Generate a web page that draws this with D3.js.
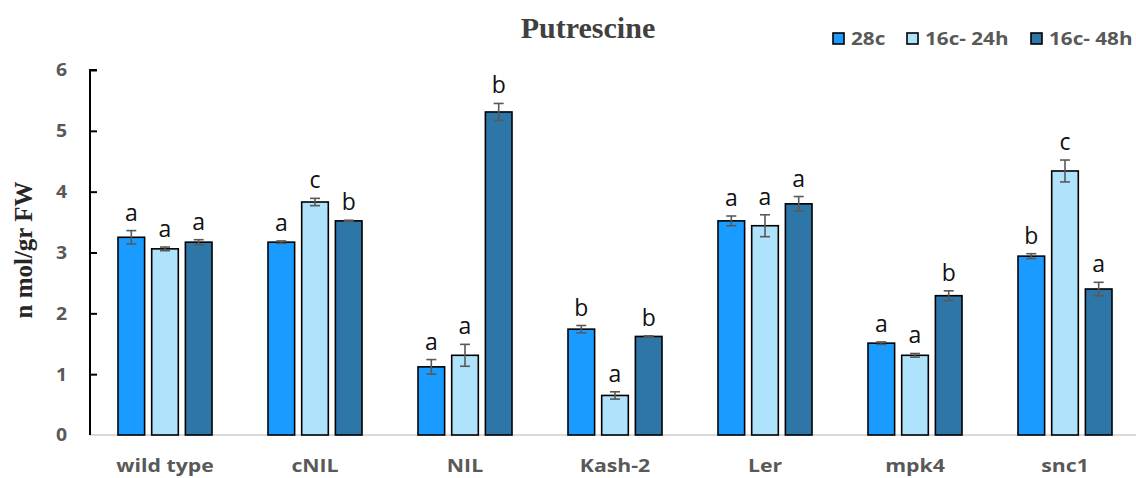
<!DOCTYPE html>
<html>
<head>
<meta charset="utf-8">
<script src="https://cdn.jsdelivr.net/npm/d3@7"></script>
<style>
  html, body { margin: 0; padding: 0; background: #fff; }
  svg { display: block; }
</style>
</head>
<body>
<svg id="chart" width="1136" height="478"></svg>
<script>
// Putrescine content per genotype and temperature treatment
const categories = ["wild type", "cNIL", "NIL", "Kash-2", "Ler", "mpk4", "snc1"];
const seriesNames = ["28c", "16c- 24h", "16c- 48h"];
const seriesColors = ["#1a9bff", "#aee3fb", "#2e75a8"];

const values28c  = [3.25, 3.17, 1.12, 1.74, 3.52, 1.51, 2.94];
const values24h  = [3.06, 3.83, 1.31, 0.65, 3.44, 1.31, 4.34];
const values48h  = [3.17, 3.52, 5.31, 1.62, 3.80, 2.29, 2.40];

const err28c = [0.11, 0.02, 0.12, 0.06, 0.08, 0.02, 0.04];
const err24h = [0.03, 0.06, 0.18, 0.06, 0.18, 0.03, 0.18];
const err48h = [0.04, 0.01, 0.14, 0.01, 0.12, 0.08, 0.11];

const letters28c = ["a", "a", "a", "b", "a", "a", "b"];
const letters24h = ["a", "c", "a", "a", "a", "a", "c"];
const letters48h = ["a", "b", "b", "b", "a", "b", "a"];

const yTicks = [0, 1, 2, 3, 4, 5, 6];

const seriesValues = [values28c, values24h, values48h];
const seriesErrors = [err28c, err24h, err48h];
const seriesLetters = [letters28c, letters24h, letters48h];

const rows = [];
categories.forEach((c, i) => {
  seriesNames.forEach((s, j) => {
    rows.push({ cat: c, series: s, si: j,
      value: seriesValues[j][i], err: seriesErrors[j][i], letter: seriesLetters[j][i] });
  });
});

const svg = d3.select("#chart");
const plotLeft = 90, plotRight = 1140, plotTop = 70, plotBottom = 435;

const x0 = d3.scaleBand().domain(categories).range([plotLeft, plotRight]);
const x1 = d3.scaleBand().domain(seriesNames).range([28, 122]).paddingInner(0.21).paddingOuter(0);
const y = d3.scaleLinear().domain([0, 6]).range([plotBottom, plotTop]);
const color = d3.scaleOrdinal().domain(seriesNames).range(seriesColors);

const sansFont = "'Open Sans', 'DejaVu Sans', sans-serif";
const serifFont = "'Liberation Serif', 'DejaVu Serif', serif";

// horizontal baseline
svg.append("line")
  .attr("x1", plotLeft).attr("x2", 1136)
  .attr("y1", plotBottom).attr("y2", plotBottom)
  .attr("stroke", "#d9d9d9").attr("stroke-width", 2);

// bars
svg.append("g").selectAll("rect").data(rows).join("rect")
  .attr("x", d => x0(d.cat) + x1(d.series))
  .attr("y", d => y(d.value))
  .attr("width", x1.bandwidth())
  .attr("height", d => y(0) - y(d.value))
  .attr("fill", d => color(d.series))
  .attr("stroke", "#000")
  .attr("stroke-width", 1.6);

// error bars
const capHalf = 5;
const eg = svg.append("g").attr("stroke", "#595959").attr("stroke-width", 1.6);
rows.forEach(d => {
  const cx = x0(d.cat) + x1(d.series) + x1.bandwidth() / 2;
  const top = y(d.value + d.err), bot = y(d.value - d.err);
  eg.append("line").attr("x1", cx).attr("x2", cx).attr("y1", top).attr("y2", bot);
  eg.append("line").attr("x1", cx - capHalf).attr("x2", cx + capHalf).attr("y1", top).attr("y2", top);
  eg.append("line").attr("x1", cx - capHalf).attr("x2", cx + capHalf).attr("y1", bot).attr("y2", bot);
});

// significance letters
svg.append("g").selectAll("text").data(rows).join("text")
  .attr("x", d => x0(d.cat) + x1(d.series) + x1.bandwidth() / 2)
  .attr("y", d => y(d.value + d.err) - 10)
  .attr("text-anchor", "middle")
  .attr("font-family", sansFont)
  .attr("font-size", 23)
  .attr("fill", "#111")
  .text(d => d.letter);

// y axis
const yAxis = d3.axisRight(y).tickValues(yTicks).tickSize(7).tickFormat("");
const yg = svg.append("g").attr("transform", `translate(${plotLeft},0)`).call(yAxis);
yg.select(".domain").attr("stroke", "#000").attr("stroke-width", 2)
  .attr("d", `M7,${plotTop}H0V${plotBottom}`);
yg.selectAll(".tick line").attr("stroke", "#000").attr("stroke-width", 2);
yg.selectAll(".tick").filter(d => d === 0).select("line").remove();

svg.append("g").selectAll("text").data(yTicks).join("text")
  .attr("transform", d => `translate(67,${y(d)}) scale(1.08,1)`)
  .attr("dy", "0.36em")
  .attr("text-anchor", "end")
  .attr("font-family", sansFont).attr("font-weight", "bold")
  .attr("font-size", 18).attr("fill", "#595959")
  .text(d => d);

// category labels
const xAxis = d3.axisBottom(x0).tickSize(0);
const xg = svg.append("g").attr("transform", `translate(0,${plotBottom})`).call(xAxis);
xg.select(".domain").remove();
xg.selectAll(".tick text")
  .attr("y", 0).attr("dy", 0)
  .attr("transform", "translate(0,37) scale(1.25,1)")
  .attr("font-family", sansFont).attr("font-weight", "bold")
  .attr("font-size", 17).attr("fill", "#595959");

// y-axis title
svg.append("text")
  .attr("transform", "translate(32,250) rotate(-90)")
  .attr("text-anchor", "middle")
  .attr("font-family", serifFont).attr("font-weight", "bold")
  .attr("font-size", 25).attr("fill", "#262626")
  .text("n mol/gr FW");

// chart title
svg.append("text")
  .attr("x", 588).attr("y", 38)
  .attr("text-anchor", "middle")
  .attr("font-family", serifFont).attr("font-weight", "bold")
  .attr("font-size", 30).attr("fill", "#404040")
  .text("Putrescine");

// legend
const legendX = [832, 906, 1030];
const lg = svg.append("g");
seriesNames.forEach((s, j) => {
  lg.append("rect")
    .attr("x", legendX[j] + 1).attr("y", 33)
    .attr("width", 11).attr("height", 11)
    .attr("fill", color(s)).attr("stroke", "#000").attr("stroke-width", 1.6);
  lg.append("text")
    .attr("transform", `translate(${legendX[j] + 19},45) scale(1.15,1)`)
    .attr("font-family", sansFont).attr("font-weight", "bold")
    .attr("font-size", 18).attr("fill", "#595959")
    .text(s);
});
</script>
</body>
</html>
